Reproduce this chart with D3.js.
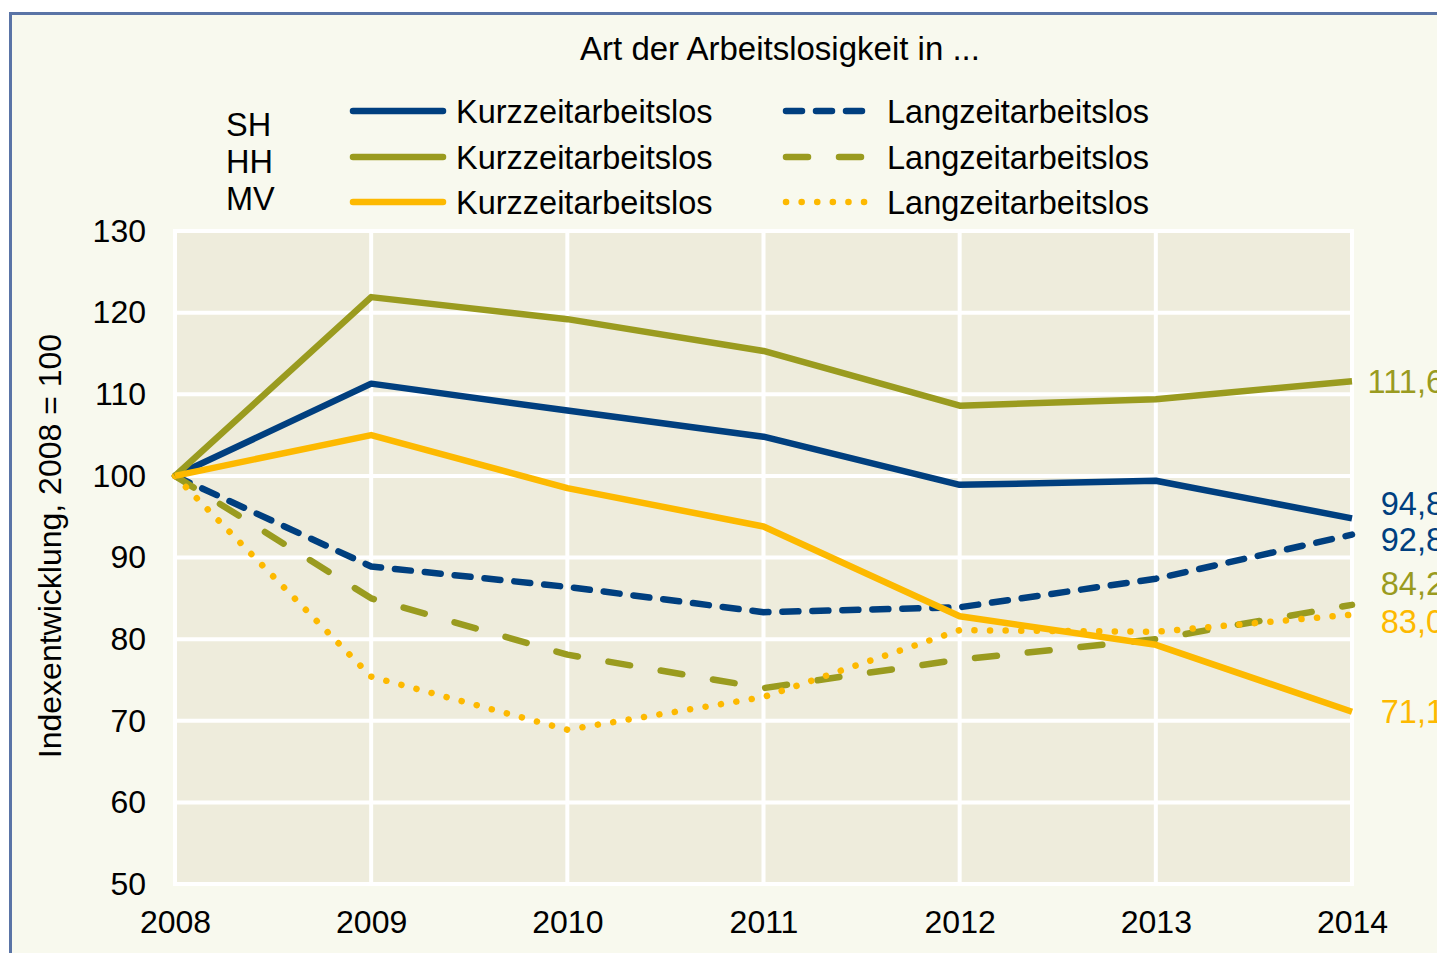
<!DOCTYPE html>
<html>
<head>
<meta charset="utf-8">
<script src="https://cdn.jsdelivr.net/npm/d3@7"></script>
<style>
  body { margin: 0; background: #ffffff; }
  text { font-family: "Liberation Sans", Arial, sans-serif; fill: #000; }
</style>
</head>
<body>
<script>
// data
var years = [2008, 2009, 2010, 2011, 2012, 2013, 2014];
var shKurz = [100, 111.3, 108.0, 104.8, 98.9, 99.4, 94.8];
var shLang = [100, 88.9, 86.4, 83.3, 83.9, 87.4, 92.8];
var hhKurz = [100, 121.9, 119.2, 115.3, 108.6, 109.4, 111.6];
var hhLang = [100, 85.0, 78.1, 74.0, 77.5, 80.0, 84.2];
var mvKurz = [100, 105.0, 98.5, 93.8, 82.8, 79.3, 71.1];
var mvLang = [100, 75.4, 68.9, 72.9, 81.1, 80.9, 83.0];
var yTicks = [50, 60, 70, 80, 90, 100, 110, 120, 130];
var regions = ["SH", "HH", "MV"];

var W = 1437, H = 953;
var margin = {top: 231, right: 85, bottom: 69, left: 175},
    width = W - margin.left - margin.right,
    height = H - margin.top - margin.bottom;

var blue = "#003f7f", olive = "#9a9b1f", yellow = "#fdb900";
var fs = 32.5;

var series = [
  {name: "Langzeitarbeitslos", values: shLang, color: blue, dash: "16 14", label: "92,8", shift: 5},
  {name: "Langzeitarbeitslos", values: hhLang, color: olive, dash: "22 31", label: "84,2", shift: -22},
  {name: "Langzeitarbeitslos", values: mvLang, color: yellow, dash: "0.1 15.5", label: "83,0", shift: 7},
  {name: "Kurzzeitarbeitslos", values: shKurz, color: blue, dash: null, label: "94,8", shift: -15},
  {name: "Kurzzeitarbeitslos", values: hhKurz, color: olive, dash: null, label: "111,6", shift: 0},
  {name: "Kurzzeitarbeitslos", values: mvKurz, color: yellow, dash: null, label: "71,1", shift: 0}
];

var svg = d3.select("body").append("svg")
    .attr("width", W)
    .attr("height", H);

// outer frame
svg.append("rect")
    .attr("x", 10.5).attr("y", 13.5)
    .attr("width", W + 20).attr("height", H + 20)
    .attr("fill", "#f8f9ee")
    .attr("stroke", "#5a74a6")
    .attr("stroke-width", 3);

var x = d3.scaleLinear()
    .domain([2008, 2014])
    .range([0, width]);
var y = d3.scaleLinear()
    .domain([50, 130])
    .range([height, 0]);

var g = svg.append("g")
    .attr("transform", "translate(" + margin.left + "," + margin.top + ")");

g.append("rect")
    .attr("width", width).attr("height", height)
    .attr("fill", "#eeecdc")
    .attr("stroke", "#ffffff")
    .attr("stroke-width", 4);

// grid
g.selectAll(".hgrid")
    .data(yTicks)
  .enter().append("line")
    .attr("x1", 0).attr("x2", width)
    .attr("y1", function(d) { return y(d); })
    .attr("y2", function(d) { return y(d); })
    .attr("stroke", "#fff").attr("stroke-width", 4);
g.selectAll(".vgrid")
    .data(years)
  .enter().append("line")
    .attr("x1", function(d) { return x(d); })
    .attr("x2", function(d) { return x(d); })
    .attr("y1", 0).attr("y2", height)
    .attr("stroke", "#fff").attr("stroke-width", 4);

// axes
var yAxis = g.append("g")
    .call(d3.axisLeft(y).tickValues(yTicks).tickSize(0).tickPadding(29));
var xAxis = g.append("g")
    .attr("transform", "translate(0," + height + ")")
    .call(d3.axisBottom(x).tickValues(years).tickFormat(d3.format("d")).tickSize(0).tickPadding(26));
[yAxis, xAxis].forEach(function(a) {
  a.select(".domain").remove();
  a.selectAll("text").style("font-size", "32px").style("font-family", "Liberation Sans, Arial, sans-serif").attr("fill", "#000");
});
xAxis.selectAll("text").attr("dy", "0.71em");

svg.append("text")
    .attr("transform", "translate(61,546) rotate(-90)")
    .attr("text-anchor", "middle")
    .style("font-size", "32px")
    .text("Indexentwicklung, 2008 = 100");

// lines
var line = d3.line()
    .x(function(d, i) { return x(years[i]); })
    .y(function(d) { return y(d); });

g.selectAll(".series")
    .data(series)
  .enter().append("path")
    .attr("d", function(d) { return line(d.values); })
    .attr("fill", "none")
    .attr("stroke", function(d) { return d.color; })
    .attr("stroke-width", 6.5)
    .attr("stroke-linejoin", "round")
    .attr("stroke-linecap", function(d) { return d.dash ? "round" : "butt"; })
    .attr("stroke-dasharray", function(d) { return d.dash; });

// end labels
g.selectAll(".endlabel")
    .data(series)
  .enter().append("text")
    .attr("x", W - margin.left + 7)
    .attr("y", function(d) { return y(d.values[d.values.length - 1]) + d.shift; })
    .attr("dy", "0.36em")
    .attr("text-anchor", "end")
    .style("font-size", fs + "px")
    .style("fill", function(d) { return d.color; })
    .text(function(d) { return d.label; });

// title + legend
svg.append("text")
    .attr("x", 780).attr("y", 48).attr("dy", "0.36em")
    .attr("text-anchor", "middle")
    .style("font-size", "33px")
    .text("Art der Arbeitslosigkeit in ...");

var rowY = [111, 157, 202];
var labelY = [124, 161, 198];
regions.forEach(function(r, i) {
  svg.append("text")
      .attr("x", 226).attr("y", labelY[i]).attr("dy", "0.36em")
      .style("font-size", fs + "px")
      .text(r);
});

var kurz = series.slice(3), lang = series.slice(0, 3);
[kurz, lang].forEach(function(col, c) {
  var x0 = c == 0 ? 353 : 786, x1 = c == 0 ? 443 : 865, tx = c == 0 ? 456 : 887;
  col.forEach(function(s, i) {
    svg.append("line")
        .attr("x1", x0).attr("x2", x1)
        .attr("y1", rowY[i]).attr("y2", rowY[i])
        .attr("stroke", s.color)
        .attr("stroke-width", 6.5)
        .attr("stroke-linecap", "round")
        .attr("stroke-dasharray", s.dash);
    svg.append("text")
        .attr("x", tx).attr("y", rowY[i]).attr("dy", "0.36em")
        .style("font-size", fs + "px")
        .text(s.name);
  });
});
</script>
</body>
</html>
